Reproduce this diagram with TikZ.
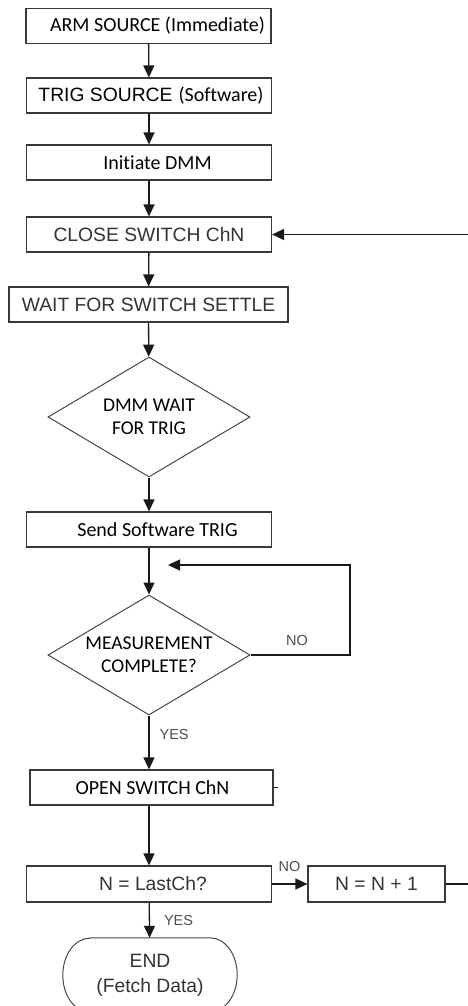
\documentclass[tikz,border=0pt]{standalone}
\usepackage{fontspec}
\newfontfamily\calfont[Ligatures={NoCommon}]{Carlito}
\newfontfamily\arifont{Liberation Sans}
\usetikzlibrary{shapes.geometric,arrows.meta}
\begin{document}
\begin{tikzpicture}[x=1pt,y=1pt,
  box/.style={draw=black!78, line width=1.2pt, inner sep=0pt, minimum height=35pt, minimum width=245pt,
    font=\calfont\fontsize{20}{23}\selectfont, text=black},
  abox/.style={box, font=\arifont\fontsize{19.3}{23}\selectfont, text=black!80},
  dec/.style={diamond, draw=black!72, line width=1pt, minimum width=202pt, minimum height=120pt,
    inner sep=0pt, aspect=1.68, align=center, font=\calfont\fontsize{19.5}{23}\selectfont, text=black},
  term/.style={draw=none, minimum width=174pt, minimum height=74pt, inner sep=0pt, align=center,
    font=\arifont\fontsize{19.3}{25}\selectfont, text=black!80},
  lab/.style={font=\arifont\fontsize{14.5}{16}\selectfont, text=black!70, inner sep=2pt},
  arr/.style={-{Triangle[length=12pt,width=11pt]}, line width=1.3pt, draw=black!90},
  ln/.style={line width=1.3pt, draw=black!90}]
\useasboundingbox (0,0) rectangle (467,-1006);

\node[box] (arm) at (148.5,-26) {\hspace*{18pt}ARM SOURCE (Immediate)};
\node[box] (trig) at (149,-95.5) {\hspace*{4pt}{\arifont\fontsize{19.3}{23}\selectfont TRIG SOURCE}\hspace{6pt}(Software)};
\node[box] (init) at (149,-162.5) {\hspace*{17pt}Initiate DMM};
\node[abox] (close) at (149,-234.5) {CLOSE SWITCH ChN};
\node[abox, minimum width=279pt] (wait) at (148.5,-304.5) {WAIT FOR SWITCH SETTLE};
\node[dec] (d1) at (149,-417) {DMM WAIT\\FOR TRIG};
\node[box] (send) at (149,-529.5) {\hspace*{17pt}Send Software TRIG};
\node[dec] (d2) at (149,-655) {MEASUREMENT\\COMPLETE?};
\node[box, minimum width=243pt] (open) at (151.5,-787.5) {\hspace*{2pt}OPEN SWITCH ChN};
\node[abox, minimum height=36pt] (last) at (149,-884) {\hspace*{8pt}N = LastCh?};
\node[abox, minimum width=137pt, minimum height=36pt] (inc) at (376.5,-884) {N = N + 1};
\node[term] (end) at (150,-975) {END\\(Fetch Data)};
\draw[line width=1pt, draw=black!72] ([xshift=27pt]end.north west) -- ([xshift=-27pt]end.north east)
  arc[start angle=90,end angle=-90,x radius=27pt,y radius=37pt]
  -- ([xshift=27pt]end.south west)
  arc[start angle=270,end angle=90,x radius=27pt,y radius=37pt] -- cycle;

\coordinate (loopend) at (168,-565);
\coordinate (loopr) at (350,-655);
\coordinate (farr) at (470,-884);

\draw[arr] (arm) -- (trig);
\draw[arr] (trig) -- (init);
\draw[arr] (init) -- (close);
\draw[arr] (close) -- (wait);
\draw[arr] (wait) -- (d1);
\draw[arr] (d1) -- (send);
\draw[arr] (send) -- (d2);
\draw[arr] (d2) -- node[lab, right, pos=0.35, xshift=8pt] (yes1) {YES} (d2.south |- open.north);
\draw[arr] (last.north |- open.south) -- (last);
\draw[arr] (last) -- node[lab, right, pos=0.5, xshift=12pt] (yes2) {YES} (end);
\draw[arr] (last) -- (inc);
\node[lab] (no2) at (289.5,-866) {NO};
\draw[arr] (d2.east) -- (loopr) |- (loopend);
\node[lab] (no1) at (297,-641) {NO};
\draw[arr] (inc.east) -- (farr) |- (close.east);
\draw[ln] (open.east) -- ++(4,0);
\end{tikzpicture}
\end{document}
